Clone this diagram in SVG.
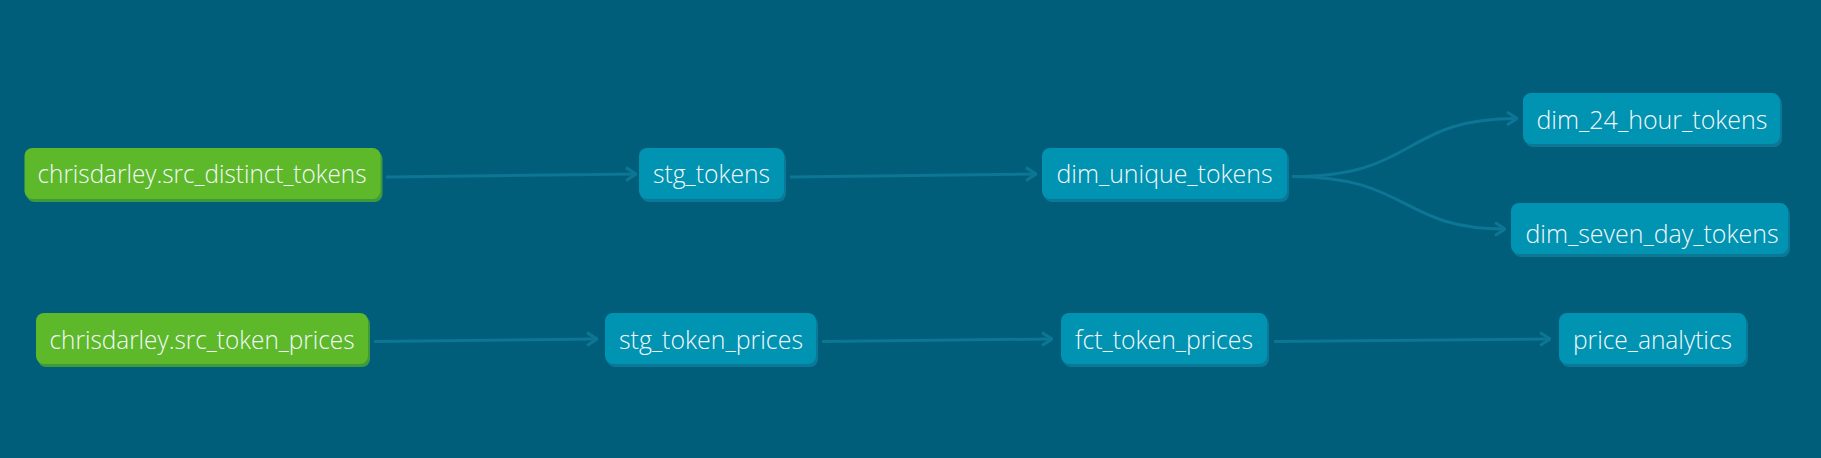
<svg xmlns="http://www.w3.org/2000/svg" width="1821" height="458" viewBox="0 0 1821 458">
<defs>
<style>
.bg{fill:#005e7b}
.sh-m{fill:#0a7896}
.sh-s{fill:#3f9a3c}
.m{fill:#0093b2}
.s{fill:#5db82a}
.t{font-family:"Open Sans","Liberation Sans",sans-serif;font-weight:300;font-size:25.5px;fill:#f4f8fa;text-anchor:middle}
.e{fill:none;stroke:#0d7694;stroke-width:3}
</style>
<marker id="arr" viewBox="0 0 12 16" refX="11" refY="8" markerWidth="12" markerHeight="16" markerUnits="userSpaceOnUse" orient="auto">
<path d="M1,1.5 L11,8 L1,14.5" fill="none" stroke="#0d7694" stroke-width="3"/>
</marker>
</defs>
<rect class="bg" x="0" y="0" width="1821" height="458"/>
<g id="connectors">
<path class="e" marker-end="url(#arr)" d="M386,177 L636,174"/>
<path class="e" marker-end="url(#arr)" d="M790,177 L1036,174"/>
<path class="e" marker-end="url(#arr)" d="M1292,176.5 C1420,176.5 1400,118.5 1517,118.5"/>
<path class="e" marker-end="url(#arr)" d="M1292,176.5 C1410,176.5 1400,229 1505,229"/>
<path class="e" marker-end="url(#arr)" d="M374,341.5 L597,339"/>
<path class="e" marker-end="url(#arr)" d="M822,341.5 L1052,339"/>
<path class="e" marker-end="url(#arr)" d="M1274,341.5 L1550,339"/>
</g>
<g id="src_distinct_tokens">
<rect class="sh-s" x="26.5" y="151" width="356" height="51" rx="8"/>
<rect class="s" x="24.5" y="148" width="356" height="51" rx="8"/>
<text class="t" x="202" y="182.5" textLength="329" lengthAdjust="spacingAndGlyphs">chrisdarley.src_distinct_tokens</text>
</g>
<g id="stg_tokens">
<rect class="sh-m" x="641" y="151" width="145" height="51" rx="8"/>
<rect class="m" x="639" y="148" width="145" height="51" rx="8"/>
<text class="t" x="711.5" y="182.5" textLength="117" lengthAdjust="spacingAndGlyphs">stg_tokens</text>
</g>
<g id="dim_unique_tokens">
<rect class="sh-m" x="1044" y="151" width="245" height="51" rx="8"/>
<rect class="m" x="1042" y="148" width="245" height="51" rx="8"/>
<text class="t" x="1164.5" y="182.5" textLength="216" lengthAdjust="spacingAndGlyphs">dim_unique_tokens</text>
</g>
<g id="dim_24_hour_tokens">
<rect class="sh-m" x="1525" y="96" width="257" height="51" rx="8"/>
<rect class="m" x="1523" y="93" width="257" height="51" rx="8"/>
<text class="t" x="1652" y="128.5" textLength="231" lengthAdjust="spacingAndGlyphs">dim_24_hour_tokens</text>
</g>
<g id="dim_seven_day_tokens">
<rect class="sh-m" x="1513" y="206" width="277" height="51" rx="8"/>
<rect class="m" x="1511" y="203" width="277" height="51" rx="8"/>
<text class="t" x="1652" y="242.5" textLength="253" lengthAdjust="spacingAndGlyphs">dim_seven_day_tokens</text>
</g>
<g id="src_token_prices">
<rect class="sh-s" x="38" y="316" width="332" height="51" rx="8"/>
<rect class="s" x="36" y="313" width="332" height="51" rx="8"/>
<text class="t" x="202" y="348.5" textLength="305" lengthAdjust="spacingAndGlyphs">chrisdarley.src_token_prices</text>
</g>
<g id="stg_token_prices">
<rect class="sh-m" x="607" y="316" width="211" height="51" rx="8"/>
<rect class="m" x="605" y="313" width="211" height="51" rx="8"/>
<text class="t" x="711" y="348.5" textLength="184" lengthAdjust="spacingAndGlyphs">stg_token_prices</text>
</g>
<g id="fct_token_prices">
<rect class="sh-m" x="1063" y="316" width="206" height="51" rx="8"/>
<rect class="m" x="1061" y="313" width="206" height="51" rx="8"/>
<text class="t" x="1164" y="348.5" textLength="178" lengthAdjust="spacingAndGlyphs">fct_token_prices</text>
</g>
<g id="price_analytics">
<rect class="sh-m" x="1561" y="316" width="187" height="51" rx="8"/>
<rect class="m" x="1559" y="313" width="187" height="51" rx="8"/>
<text class="t" x="1652.5" y="348.5" textLength="159" lengthAdjust="spacingAndGlyphs">price_analytics</text>
</g>
</svg>
